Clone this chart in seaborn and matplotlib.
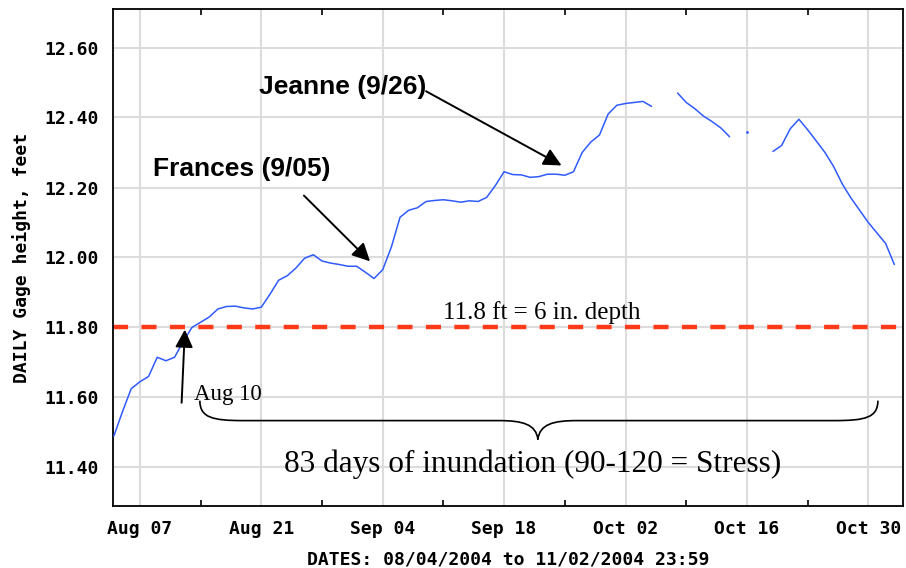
import numpy as np
import pandas as pd
import matplotlib
matplotlib.use("Agg")
import matplotlib.pyplot as plt
import matplotlib.dates as mdates
from matplotlib.path import Path
from matplotlib.patches import PathPatch
import seaborn as sns

# --- data (daily, feet) ---
start_date = "2004-08-04"
gage_ft = [
    11.49, 11.56, 11.625, 11.645, 11.66, 11.715, 11.705, 11.715, 11.76, 11.80,
    11.815, 11.83, 11.853, 11.86, 11.861, 11.856, 11.853, 11.858, 11.895, 11.935,
    11.948, 11.97, 11.998, 12.008, 11.99, 11.984, 11.98, 11.975, 11.975, 11.958,
    11.94, 11.965, 12.03, 12.115, 12.135, 12.142, 12.16, 12.163, 12.165, 12.162,
    12.158, 12.162, 12.16, 12.172, 12.206, 12.245, 12.237, 12.236, 12.229, 12.231,
    12.238, 12.238, 12.235, 12.245, 12.30, 12.33, 12.35, 12.41, 12.435, 12.44,
    12.443, 12.446, 12.432, np.nan, np.nan, 12.47, 12.443, 12.425, 12.404, 12.388,
    12.37, 12.345, np.nan, 12.36, np.nan, np.nan, 12.303, 12.32, 12.368, 12.395,
    12.365, 12.333, 12.30, 12.26, 12.21, 12.17, 12.135, 12.10, 12.07, 12.04,
    11.98,
]
threshold_ft = 11.8
ytick_vals = [11.40, 11.60, 11.80, 12.00, 12.20, 12.40, 12.60]
major_dates = ["2004-08-07", "2004-08-21", "2004-09-04", "2004-09-18",
               "2004-10-02", "2004-10-16", "2004-10-30"]
minor_dates = ["2004-08-14", "2004-08-28", "2004-09-11", "2004-09-25",
               "2004-10-09", "2004-10-23"]

LINE_BLUE = "#2f5bff"
DASH_RED = "#ff3a1a"
MONO = "DejaVu Sans Mono"


def d2n(s):
    return mdates.date2num(pd.Timestamp(s))


def draw_brace(ax, x_left, x_tip, x_right, y_end, y_mid, y_tip):
    # curly brace opening downward, built from bezier pieces
    verts = [
        (x_left, y_end),
        (x_left, y_mid + 0.008), (x_left + 1.5, y_mid), (x_left + 5.0, y_mid),
        (x_tip - 4.5, y_mid),
        (x_tip - 1.8, y_mid), (x_tip - 0.2, y_mid - 0.01), (x_tip, y_tip),
        (x_tip + 0.2, y_mid - 0.01), (x_tip + 1.8, y_mid), (x_tip + 4.5, y_mid),
        (x_right - 5.0, y_mid),
        (x_right - 1.5, y_mid), (x_right, y_mid + 0.008), (x_right, y_end),
    ]
    codes = [Path.MOVETO,
             Path.CURVE4, Path.CURVE4, Path.CURVE4,
             Path.LINETO,
             Path.CURVE4, Path.CURVE4, Path.CURVE4,
             Path.CURVE4, Path.CURVE4, Path.CURVE4,
             Path.LINETO,
             Path.CURVE4, Path.CURVE4, Path.CURVE4]
    ax.add_patch(PathPatch(Path(verts, codes), fc="none", ec="black", lw=1.2, zorder=4))


df = pd.DataFrame({
    "date": pd.date_range(start_date, periods=len(gage_ft), freq="D"),
    "gage": gage_ft,
})
df["segment"] = df["gage"].isna().cumsum()
df = df.dropna()
seg_size = df.groupby("segment")["gage"].transform("size")

sns.set_style("white")
plt.rcParams.update({"text.color": "black", "axes.labelcolor": "black",
                     "xtick.color": "black", "ytick.color": "black"})
fig = plt.figure(figsize=(9.06, 5.68), dpi=100)
ax = fig.add_axes([113 / 906, 62 / 568, 790 / 906, 497 / 568])

sns.lineplot(data=df[seg_size > 1], x="date", y="gage", units="segment",
             estimator=None, color=LINE_BLUE, lw=1.1, ax=ax, zorder=3)
sns.scatterplot(data=df[seg_size == 1], x="date", y="gage", color=LINE_BLUE,
                s=4, linewidth=0, ax=ax, zorder=3)

ax.axhline(threshold_ft, color=DASH_RED, lw=3.2, dashes=(3.4, 3.0), zorder=2)

ax.set_xlim(d2n(start_date) - 0.1, d2n(start_date) + 91)
ax.set_ylim(11.29, 12.71)

ax.set_xticks([d2n(d) for d in major_dates])
ax.set_xticklabels([pd.Timestamp(d).strftime("%b %d") for d in major_dates])
ax.set_xticks([d2n(d) for d in minor_dates], minor=True)
ax.set_yticks(ytick_vals)
ax.set_yticklabels([f"{v:.2f}" for v in ytick_vals])

ax.grid(True, which="major", color="#dcdcdc", lw=1.5)
ax.set_axisbelow(True)
ax.tick_params(axis="both", which="major", length=0, pad=10, labelcolor="black")
ax.tick_params(axis="x", which="minor", length=4, width=1.2, direction="in",
               top=True, bottom=True, color="black")
for lab in ax.get_xticklabels() + ax.get_yticklabels():
    lab.set_fontfamily(MONO)
    lab.set_fontweight("bold")
    lab.set_fontsize(13)
for sp in ax.spines.values():
    sp.set_color("black")
    sp.set_linewidth(1.3)

ax.set_xlabel("DATES: 08/04/2004 to 11/02/2004 23:59", fontfamily=MONO,
              fontweight="bold", fontsize=13, labelpad=9, color="black")
ax.set_ylabel("DAILY Gage height, feet", fontfamily=MONO, fontweight="bold",
              fontsize=13, labelpad=10, color="black")

# --- annotations ---
arrow = dict(arrowstyle="-|>,head_length=0.6,head_width=0.3", mutation_scale=18,
             color="black", lw=1.4, shrinkA=0, shrinkB=0)
ax.annotate("", xy=(d2n("2004-09-02 13:00"), 11.989),
            xytext=(d2n("2004-08-25 22:00"), 12.177), arrowprops=arrow, zorder=5)
ax.annotate("", xy=(d2n("2004-09-24 15:00"), 12.263),
            xytext=(d2n("2004-09-09 00:00"), 12.475), arrowprops=arrow, zorder=5)
ax.annotate("", xy=(d2n("2004-08-12 04:30"), 11.794),
            xytext=(d2n("2004-08-11 19:30"), 11.585), arrowprops=arrow, zorder=5)

ax.text(d2n("2004-08-20 17:00"), 12.466, "Jeanne (9/26)", family="Liberation Sans",
        fontweight="bold", fontsize=19, va="baseline", ha="left", color="black")
ax.text(d2n("2004-08-08 12:00"), 12.232, "Frances (9/05)", family="Liberation Sans",
        fontweight="bold", fontsize=19, va="baseline", ha="left", color="black")
ax.text(d2n("2004-09-11 00:00"), 11.823, "11.8 ft = 6 in. depth",
        family="Liberation Serif", fontsize=18, va="baseline", ha="left", color="black")
ax.text(d2n("2004-08-13 06:00"), 11.594, "Aug 10", family="Liberation Serif",
        fontsize=16.5, va="baseline", ha="left", color="black")
ax.text(d2n("2004-09-21 06:30"), 11.387, "83 days of inundation (90-120 = Stress)",
        family="Liberation Serif", fontsize=22.5, va="baseline", ha="center",
        color="black")

draw_brace(ax, d2n("2004-08-13 22:00"), d2n("2004-09-21 21:30"),
           d2n("2004-10-31 02:30"), 11.591, 11.534, 11.48)

fig.savefig("out.png", dpi=100)
plt.close(fig)
